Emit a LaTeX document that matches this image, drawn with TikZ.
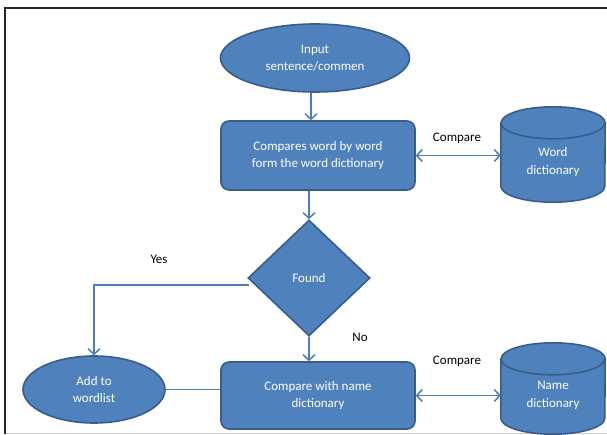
\documentclass[tikz,border=0pt]{standalone}
\usepackage{fontspec}
\setmainfont{Carlito}
\usetikzlibrary{shapes.geometric,arrows.meta}
\definecolor{boxfill}{HTML}{4F81BD}
\definecolor{boxline}{HTML}{385D8A}
\definecolor{arrowc}{HTML}{4A7EBB}
\begin{document}
\begin{tikzpicture}[x=1pt,y=-1pt,
 shapebase/.style={fill=boxfill,draw=boxline,line width=1.6pt,text=white,font=\fontsize{13}{17.5}\selectfont,align=center,inner sep=0pt},
 oval/.style={shapebase,ellipse},
 procbox/.style={shapebase,rectangle,rounded corners=8pt,minimum width=194pt},
 decision/.style={shapebase,diamond,minimum width=122pt,minimum height=116pt},
 storebox/.style={rectangle,inner sep=0pt,minimum width=104pt},
 cylfill/.style={fill=boxfill,draw=boxline,line width=1.6pt},
 storetext/.style={text=white,font=\fontsize{13}{17.5}\selectfont,align=center,inner sep=0pt},
 conn/.style={draw=arrowc,line width=1.5pt},
 tip/.style={-{Straight Barb[length=5.5pt,width=12pt]}},
 dtip/.style={{Straight Barb[length=5.5pt,width=12pt]}-{Straight Barb[length=5.5pt,width=12pt]}},
 lbl/.style={font=\fontsize{13}{15}\selectfont,text=black,inner sep=0pt}
]
\fill[white] (0,0) rectangle (607,435);
\useasboundingbox (0,0) rectangle (607,435);
\draw[black!85,line width=2pt] (4.5,434) -- (4.5,8) -- (607,8);
\draw[black!20,line width=0.8pt] (5.5,433.5) -- (607,433.5);

\node[oval,minimum width=189pt,minimum height=68pt] (in) at (315,58) {Input\\sentence/commen};
\node[procbox,minimum height=69pt] (cmp1) at (318,155.5) {Compares word by word\\form the word dictionary};
\node[decision] (found) at (309,278) {Found};
\node[oval,minimum width=142pt,minimum height=67pt] (add) at (94,389.5) {Add to\\wordlist};
\node[procbox,minimum height=67pt] (cmp2) at (318,395.5) {Compare with name\\dictionary};

% cylinders
\node[storebox,minimum height=95pt] (wdict) at (553,154.5) {};
\node[storebox,minimum height=91pt] (ndict) at (553,388.5) {};
\foreach \c in {wdict,ndict}{
  \draw[cylfill] ([yshift=-16pt]\c.north west) -- ([yshift=16pt]\c.south west)
     arc[start angle=180,end angle=360,x radius=52pt,y radius=16pt]
     -- ([yshift=-16pt]\c.north east)
     arc[start angle=0,end angle=180,x radius=52pt,y radius=16pt] -- cycle;
  \draw[draw=boxline,line width=1.6pt] ([yshift=-16pt]\c.north west)
     arc[start angle=180,end angle=360,x radius=52pt,y radius=16pt];
}
\node[storetext] (wdictt) at (553,162) {Word\\dictionary};
\node[storetext] (ndictt) at (553,395.5) {Name\\dictionary};

\coordinate (vx) at (311,0);
\draw[conn,tip] (in.south -| vx) -- (cmp1.north -| vx);
\draw[conn,tip] (cmp1.south -| found.north) -- (found.north);
\draw[conn,dtip] (cmp1.east) -- (cmp1.east -| wdict.west);
\draw[conn,tip] ([xshift=2pt,yshift=-7pt]found.west) -| (add.north);
\draw[conn,tip] (found.south) -- (cmp2.north -| found.south);
\draw[conn] (add.east) -- (add.east -| cmp2.west);
\draw[conn,dtip] (cmp2.east) -- (cmp2.east -| ndict.west);

\node[lbl] (cl1) at (457,138) {Compare};
\node[lbl] (cl2) at (457,361) {Compare};
\node[lbl] (yes) at (159,259) {Yes};
\node[lbl] (no) at (360,337) {No};
\end{tikzpicture}
\end{document}
